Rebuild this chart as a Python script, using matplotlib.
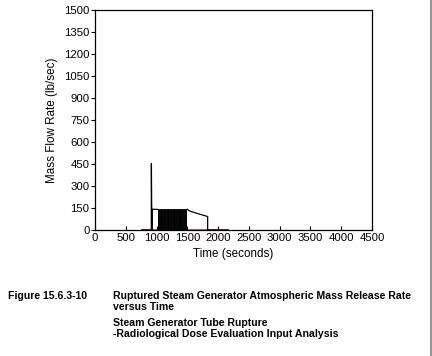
import matplotlib
matplotlib.use("Agg")
import matplotlib.pyplot as plt
from matplotlib.lines import Line2D

plt.rcParams['font.family'] = ['Liberation Sans', 'DejaVu Sans']

# Main (black) mass release series: spike, relief-valve cycling, decline
spike_time = [760, 915, 916, 921, 921, 926, 926, 1010]
spike_flow = [0, 0, 452, 141, 0, 0, 141, 141]

cycle_time = [1010, 1024, 1038, 1052, 1066, 1080, 1094, 1108, 1122, 1136,
              1150, 1164, 1178, 1192, 1206, 1220, 1234, 1248, 1262, 1276,
              1290, 1304, 1318, 1332, 1346, 1360, 1374, 1388, 1402, 1416,
              1430, 1444, 1458, 1472, 1486, 1500]
cycle_flow = [141, 0, 141, 0, 141, 0, 141, 0, 141, 0,
              141, 0, 141, 0, 141, 0, 141, 0, 141, 0,
              141, 0, 141, 0, 141, 0, 141, 0, 141, 0,
              141, 0, 141, 0, 141, 141]

decline_time = [1500, 1530, 1600, 1700, 1830, 1830, 2160]
decline_flow = [141, 131, 121, 108, 92, 0, 0]

# Secondary (red) baseline series
red_time = [760, 2160]
red_flow = [0, 0]

x_ticks = [0, 500, 1000, 1500, 2000, 2500, 3000, 3500, 4000, 4500]
y_ticks = [0, 150, 300, 450, 600, 750, 900, 1050, 1200, 1350, 1500]

fig = plt.figure(figsize=(4.32, 3.56), dpi=100)
ax = fig.add_axes([95/432, 1 - 230/356, (372 - 95)/432, (230 - 10)/356])

ax.plot(red_time, red_flow, color='#c04040', lw=1.2, clip_on=False, zorder=1)
ax.plot(spike_time, spike_flow, color='black', lw=0.9, zorder=3)
ax.step(cycle_time, cycle_flow, where='post', color='black', lw=0.7, zorder=3)
ax.plot(decline_time, decline_flow, color='black', lw=0.9, zorder=3)

ax.set_xlim(0, 4500)
ax.set_ylim(0, 1500)
ax.set_xticks(x_ticks)
ax.set_yticks(y_ticks)
ax.tick_params(axis='x', direction='in', length=3, width=0.8, labelsize=8.2, pad=2)
ax.tick_params(axis='y', direction='out', length=3, width=0.8, labelsize=8.2, pad=1)
for s in ax.spines.values():
    s.set_linewidth(0.9)

ax.set_xlabel('Time (seconds)', fontsize=8.4, labelpad=4)
ax.set_ylabel('Mass Flow Rate (lb/sec)', fontsize=8.4, labelpad=4)

# Caption
cap = dict(fontsize=7.6, fontweight='bold', va='center', ha='left')
fig.text(8/432, 1 - 296/356, 'Figure 15.6.3-10', **cap)
fig.text(113/432, 1 - 296/356, 'Ruptured Steam Generator Atmospheric Mass Release Rate', **cap)
fig.text(113/432, 1 - 307/356, 'versus Time', **cap)
fig.text(113/432, 1 - 323/356, 'Steam Generator Tube Rupture', **cap)
fig.text(113/432, 1 - 334/356, '-Radiological Dose Evaluation Input Analysis', **cap)

# Right page border line
fig.add_artist(Line2D([430.5/432, 430.5/432], [0, 1], transform=fig.transFigure,
                      color='#808080', lw=1.2))

fig.savefig('out.png', dpi=100)
